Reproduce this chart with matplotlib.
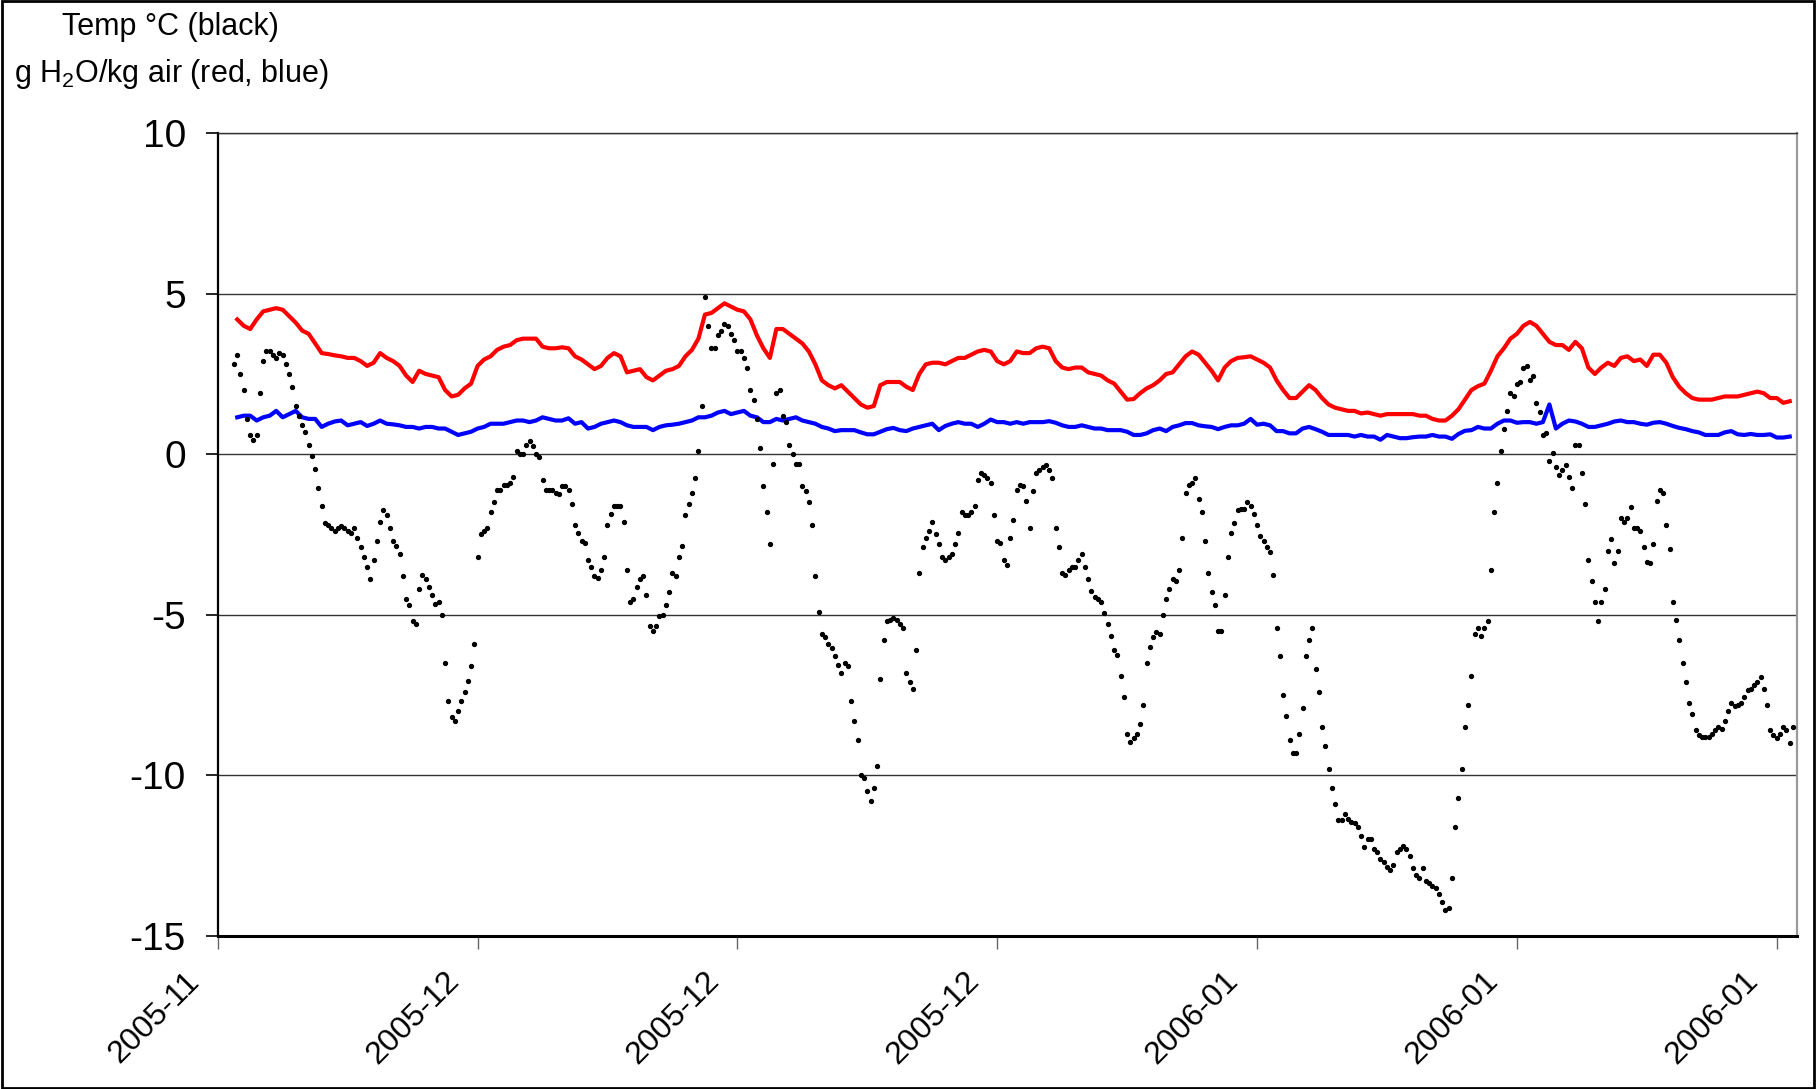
import datetime as dt

import matplotlib
matplotlib.use("Agg")
import matplotlib.dates as mdates
import matplotlib.pyplot as plt
import matplotlib.transforms as mtransforms
import numpy as np
from matplotlib.patches import Rectangle

plt.rcParams["font.family"] = ["Liberation Sans", "DejaVu Sans"]
plt.rcParams["mathtext.fontset"] = "custom"
plt.rcParams["mathtext.rm"] = "Liberation Sans"
plt.rcParams["mathtext.it"] = "Liberation Sans:italic"

start = dt.datetime(2005, 11, 22)

# air temperature, deg C (black dots), every 3 h from day 0.625
temp_first_day = 0.625
temp_step_days = 0.125
temp_c = [
    2.8, 3.1, 2.5,
    2.0, 1.1, 0.6, 0.45, 0.6, 1.9, 2.9, 3.2,
    3.2, 3.1, 3.0, 3.15, 3.1, 2.8, 2.5, 2.1,
    1.5, 1.2, 0.9, 0.7, 0.3, -0.05, -0.45, -1.05,
    -1.6, -2.15, -2.2, -2.3, -2.4, -2.3, -2.25, -2.3,
    -2.4, -2.45, -2.3, -2.6, -2.9, -3.2, -3.5, -3.9,
    -3.3, -2.7, -2.1, -1.75, -1.9, -2.3, -2.7, -2.85,
    -3.1, -3.8, -4.5, -4.7, -5.2, -5.3, -4.2, -3.75,
    -3.9, -4.15, -4.4, -4.65, -4.6, -5.0, -6.5, -7.7,
    -8.2, -8.3, -8.0, -7.7, -7.4, -7.05, -6.6, -5.9,
    -3.2, -2.5, -2.4, -2.3, -1.8, -1.5, -1.1, -1.1,
    -0.95, -0.95, -0.9, -0.7, 0.1, 0.0, 0.0, 0.3,
    0.4, 0.25, 0.0, -0.1, -0.8, -1.1, -1.1, -1.1,
    -1.2, -1.25, -1.0, -1.0, -1.1, -1.55, -2.2, -2.45,
    -2.7, -2.75, -3.3, -3.5, -3.8, -3.85, -3.6, -3.2,
    -2.2, -1.85, -1.6, -1.6, -1.6, -2.1, -3.6, -4.6,
    -4.5, -4.15, -3.9, -3.8, -4.4, -5.35, -5.5, -5.35,
    -5.05, -5.0, -4.7, -4.3, -3.7, -3.8, -3.2, -2.85,
    -1.9, -1.55, -1.2, -0.75, 0.1, 1.5, 4.9, 4.0,
    3.3, 3.3, 3.7, 3.85, 4.05, 4.0, 3.75, 3.55,
    3.2, 3.2, 3.0, 2.7, 2.0, 1.7, 1.1, 0.2,
    -1.0, -1.8, -2.8, -0.3, 1.9, 2.0, 1.2, 1.0,
    0.3, 0.0, -0.3, -0.3, -1.0, -1.15, -1.5, -2.2,
    -3.8, -4.9, -5.6, -5.7, -5.9, -6.05, -6.3, -6.55,
    -6.8, -6.5, -6.6, -7.7, -8.3, -8.9, -10.0, -10.1,
    -10.5, -10.8, -10.4, -9.7, -7.0, -5.8, -5.2, -5.15,
    -5.1, -5.15, -5.3, -5.4, -6.8, -7.1, -7.3, -6.1,
    -3.7, -2.9, -2.6, -2.4, -2.1, -2.5, -2.8, -3.2,
    -3.3, -3.2, -3.1, -2.8, -2.45, -1.8, -1.9, -1.9,
    -1.8, -1.6, -0.8, -0.6, -0.65, -0.75, -0.9, -1.9,
    -2.7, -2.75, -3.3, -3.45, -2.6, -2.05, -1.1, -0.95,
    -1.0, -1.45, -2.3, -1.15, -0.6, -0.5, -0.4, -0.35,
    -0.5, -0.75, -2.3, -2.9, -3.7, -3.75, -3.6, -3.5,
    -3.5, -3.3, -3.1, -3.5, -3.9, -4.25, -4.45, -4.5,
    -4.6, -4.95, -5.3, -5.65, -6.1, -6.25, -6.9, -7.55,
    -8.7, -8.95, -8.85, -8.7, -8.4, -7.8, -6.5, -6.0,
    -5.7, -5.55, -5.6, -5.0, -4.5, -4.2, -3.9, -3.95,
    -3.6, -2.6, -1.2, -0.95, -0.9, -0.75, -1.4, -1.8,
    -2.7, -3.7, -4.3, -4.7, -5.5, -5.5, -4.4, -3.2,
    -2.45, -2.15, -1.75, -1.7, -1.7, -1.5, -1.6, -1.85,
    -2.2, -2.55, -2.7, -2.9, -3.05, -3.75, -5.4, -6.3,
    -7.5, -8.15, -8.9, -9.3, -9.3, -8.7, -7.9, -6.3,
    -5.8, -5.4, -6.7, -7.4, -8.5, -9.1, -9.8, -10.4,
    -10.9, -11.4, -11.4, -11.2, -11.35, -11.45, -11.5, -11.6,
    -11.9, -12.25, -12.0, -12.0, -12.3, -12.4, -12.6, -12.7,
    -12.85, -12.95, -12.8, -12.4, -12.3, -12.2, -12.3, -12.5,
    -12.9, -13.1, -13.2, -12.9, -13.3, -13.35, -13.45, -13.5,
    -13.7, -13.95, -14.2, -14.15, -13.2, -11.6, -10.7, -9.8,
    -8.5, -7.8, -6.9, -5.6, -5.4, -5.65, -5.4, -5.2,
    -3.6, -1.8, -0.9, 0.1, 0.8, 1.35, 1.9, 1.8,
    2.2, 2.25, 2.7, 2.75, 2.3, 2.45, 1.6, 1.3,
    0.6, 0.65, -0.2, 0.05, -0.4, -0.65, -0.5, -0.35,
    -0.7, -1.05, 0.3, 0.3, -0.6, -1.55, -3.3, -3.95,
    -4.6, -5.2, -4.6, -4.2, -3.0, -2.65, -3.4, -3.0,
    -2.0, -2.1, -2.0, -1.65, -2.3, -2.3, -2.4, -2.9,
    -3.35, -3.4, -2.8, -1.45, -1.1, -1.2, -2.2, -2.95,
    -4.6, -5.15, -5.8, -6.5, -7.1, -7.75, -8.1, -8.6,
    -8.75, -8.8, -8.8, -8.8, -8.7, -8.6, -8.5, -8.55,
    -8.3, -8.0, -7.75, -7.85, -7.8, -7.75, -7.55, -7.35,
    -7.3, -7.2, -7.1, -6.95, -7.3, -7.8, -8.6, -8.75,
    -8.85, -8.7, -8.5, -8.6, -9.0, -8.5,
]

# water vapour, g H2O / kg air, every 6 h from day 0.75
h2o_first_day = 0.75
h2o_step_days = 0.25
h2o_red = [
    4.2,
    4.0, 3.9, 4.2, 4.45,   4.5, 4.55, 4.5, 4.3,   4.1, 3.85, 3.75, 3.45,
    3.15, 3.12, 3.08, 3.05,   3.0, 3.0, 2.9, 2.75,   2.85, 3.15, 3.0, 2.9,
    2.75, 2.45, 2.25, 2.6,   2.5, 2.45, 2.4, 2.0,   1.8, 1.85, 2.05, 2.2,
    2.75, 2.95, 3.05, 3.25,   3.35, 3.4, 3.55, 3.6,   3.6, 3.6, 3.35, 3.3,
    3.3, 3.33, 3.3, 3.05,   2.95, 2.8, 2.65, 2.75,   3.0, 3.15, 3.05, 2.55,
    2.6, 2.65, 2.4, 2.3,   2.45, 2.6, 2.65, 2.75,   3.05, 3.25, 3.6, 4.35,
    4.4, 4.55, 4.7, 4.6,   4.5, 4.45, 4.2, 3.7,   3.3, 3.0, 3.9, 3.9,
    3.75, 3.6, 3.45, 3.2,   2.8, 2.3, 2.15, 2.05,   2.15, 1.95, 1.75, 1.55,
    1.45, 1.5, 2.15, 2.25,   2.25, 2.25, 2.1, 2.0,   2.5, 2.8, 2.85, 2.85,
    2.8, 2.9, 3.0, 3.0,   3.1, 3.2, 3.25, 3.2,   2.9, 2.8, 2.9, 3.2,
    3.15, 3.15, 3.3, 3.35,   3.3, 2.9, 2.7, 2.65,   2.7, 2.7, 2.55, 2.5,
    2.45, 2.3, 2.2, 1.95,   1.7, 1.72, 1.9, 2.05,   2.15, 2.3, 2.5, 2.55,
    2.8, 3.05, 3.2, 3.1,   2.85, 2.6, 2.3, 2.7,   2.9, 3.0, 3.02, 3.05,
    2.95, 2.85, 2.7, 2.3,   2.0, 1.75, 1.75, 1.95,   2.15, 2.0, 1.75, 1.55,
    1.45, 1.4, 1.35, 1.35,   1.27, 1.3, 1.25, 1.2,   1.25, 1.25, 1.25, 1.25,
    1.25, 1.2, 1.2, 1.1,   1.05, 1.05, 1.2, 1.4,   1.7, 2.0, 2.12, 2.2,
    2.6, 3.05, 3.3, 3.6,   3.75, 4.0, 4.12, 4.0,   3.75, 3.5, 3.4, 3.4,
    3.25, 3.5, 3.3, 2.7,   2.5, 2.7, 2.85, 2.75,   3.0, 3.05, 2.9, 2.95,
    2.75, 3.1, 3.1, 2.85,   2.4, 2.1, 1.9, 1.75,   1.7, 1.7, 1.7, 1.75,
    1.8, 1.8, 1.8, 1.85,   1.9, 1.95, 1.9, 1.75,   1.75, 1.6, 1.65,
]
h2o_blue = [
    1.15,
    1.2, 1.2, 1.05, 1.15,   1.2, 1.35, 1.15, 1.25,   1.35, 1.15, 1.1, 1.1,
    0.85, 0.95, 1.02, 1.05,   0.9, 0.95, 1.0, 0.88,   0.95, 1.05, 0.95, 0.93,
    0.9, 0.85, 0.85, 0.8,   0.85, 0.85, 0.8, 0.8,   0.7, 0.6, 0.65, 0.7,
    0.8, 0.85, 0.95, 0.95,   0.95, 1.0, 1.05, 1.05,   1.0, 1.05, 1.15, 1.1,
    1.05, 1.05, 1.12, 0.95,   1.0, 0.8, 0.85, 0.95,   1.0, 1.05, 1.0, 0.9,
    0.85, 0.85, 0.85, 0.75,   0.85, 0.9, 0.92, 0.95,   1.0, 1.05, 1.15, 1.15,
    1.2, 1.3, 1.35, 1.25,   1.3, 1.35, 1.2, 1.15,   1.0, 1.0, 1.1, 1.05,
    1.1, 1.15, 1.05, 1.0,   0.95, 0.85, 0.8, 0.72,   0.75, 0.75, 0.75, 0.68,
    0.62, 0.62, 0.7, 0.78,   0.82, 0.75, 0.72, 0.8,   0.85, 0.9, 0.95, 0.75,
    0.88, 0.95, 1.0, 0.95,   0.95, 0.85, 0.95, 1.08,   1.0, 1.0, 0.95, 1.0,
    0.95, 1.0, 1.0, 1.0,   1.03, 0.98, 0.9, 0.85,   0.85, 0.9, 0.85, 0.8,
    0.8, 0.75, 0.75, 0.75,   0.7, 0.6, 0.6, 0.65,   0.75, 0.8, 0.72, 0.85,
    0.9, 0.97, 0.97, 0.9,   0.87, 0.85, 0.78, 0.85,   0.9, 0.9, 0.95, 1.1,
    0.92, 0.95, 0.9, 0.72,   0.72, 0.65, 0.65, 0.8,   0.85, 0.78, 0.7, 0.6,
    0.6, 0.6, 0.6, 0.55,   0.6, 0.55, 0.55, 0.45,   0.6, 0.55, 0.5, 0.5,
    0.53, 0.55, 0.55, 0.6,   0.55, 0.55, 0.48, 0.63,   0.73, 0.75, 0.85, 0.8,
    0.8, 0.95, 1.05, 1.05,   0.98, 1.0, 1.0, 0.95,   1.0, 1.55, 0.8, 0.95,
    1.05, 1.02, 0.95, 0.85,   0.85, 0.9, 0.95, 1.02,   1.05, 1.0, 1.0, 0.95,
    0.92, 0.98, 1.0, 0.95,   0.88, 0.82, 0.78, 0.72,   0.68, 0.6, 0.6, 0.6,
    0.68, 0.72, 0.62, 0.6,   0.63, 0.6, 0.6, 0.62,   0.52, 0.52, 0.55,
]

tick_days = [0, 10, 20, 30, 40, 50, 60]
x_end_day = 60.77
y_ticks = [-15, -10, -5, 0, 5, 10]

assert len(temp_c) == 481, len(temp_c)
assert len(h2o_red) == len(h2o_blue) == 240, (len(h2o_red), len(h2o_blue))


def to_dates(values, first_day, step_days):
    days = first_day + step_days * np.arange(len(values))
    return [start + dt.timedelta(days=float(d)) for d in days]


fig = plt.figure(figsize=(18.16, 10.89), dpi=100)
ax = fig.add_axes([0.1199, 0.1407, 0.8695, 0.7370])

ax.plot(to_dates(h2o_red, h2o_first_day, h2o_step_days), h2o_red,
        color="#ff0000", lw=3.0, zorder=3)
ax.plot(to_dates(h2o_blue, h2o_first_day, h2o_step_days), h2o_blue,
        color="#0000ff", lw=3.0, zorder=3)
ax.plot(to_dates(temp_c, temp_first_day, temp_step_days), temp_c,
        ls="none", marker="o", ms=2.8, mfc="black", mec="black", zorder=4)

ax.set_ylim(-15, 10)
ax.set_yticks(y_ticks)
ax.set_yticklabels([str(v) for v in y_ticks])
ax.set_xlim(start, start + dt.timedelta(days=x_end_day))
ax.set_xticks([start + dt.timedelta(days=d) for d in tick_days])
ax.xaxis.set_major_formatter(mdates.DateFormatter("%Y-%m"))

ax.grid(axis="y", color="#333333", lw=1.0)
ax.set_axisbelow(True)
ax.tick_params(axis="y", direction="out", length=9, width=1.2, pad=14,
               labelsize=28)
ax.tick_params(axis="x", direction="out", length=9, width=1.0, pad=20.5,
               labelsize=23, color="#666666")
shift = mtransforms.ScaledTranslation(-0.23, 0, fig.dpi_scale_trans)
for lab in ax.get_xticklabels():
    lab.set_rotation(45)
    lab.set_ha("right")
    lab.set_va("center")
    lab.set_rotation_mode("anchor")
    lab.set_transform(lab.get_transform() + shift)

ax.spines["left"].set_linewidth(1.6)
ax.spines["bottom"].set_linewidth(2.2)
ax.spines["right"].set_color("#999999")
ax.spines["right"].set_linewidth(1.6)
ax.spines["top"].set_color("#333333")
ax.spines["top"].set_linewidth(1.0)

fig.text(0.0936, 0.9675, "Temp \u00b0C (black)", fontsize=22,
         ha="center", va="baseline")
fig.text(0.0947, 0.925, r"g H$_2$O/kg air (red, blue)", fontsize=22,
         ha="center", va="baseline")

fig.patches.append(Rectangle((0.001, 0.001), 0.998, 0.998,
                             transform=fig.transFigure, fill=False,
                             edgecolor="black", lw=2.0))

fig.savefig("out.png", dpi=100)
